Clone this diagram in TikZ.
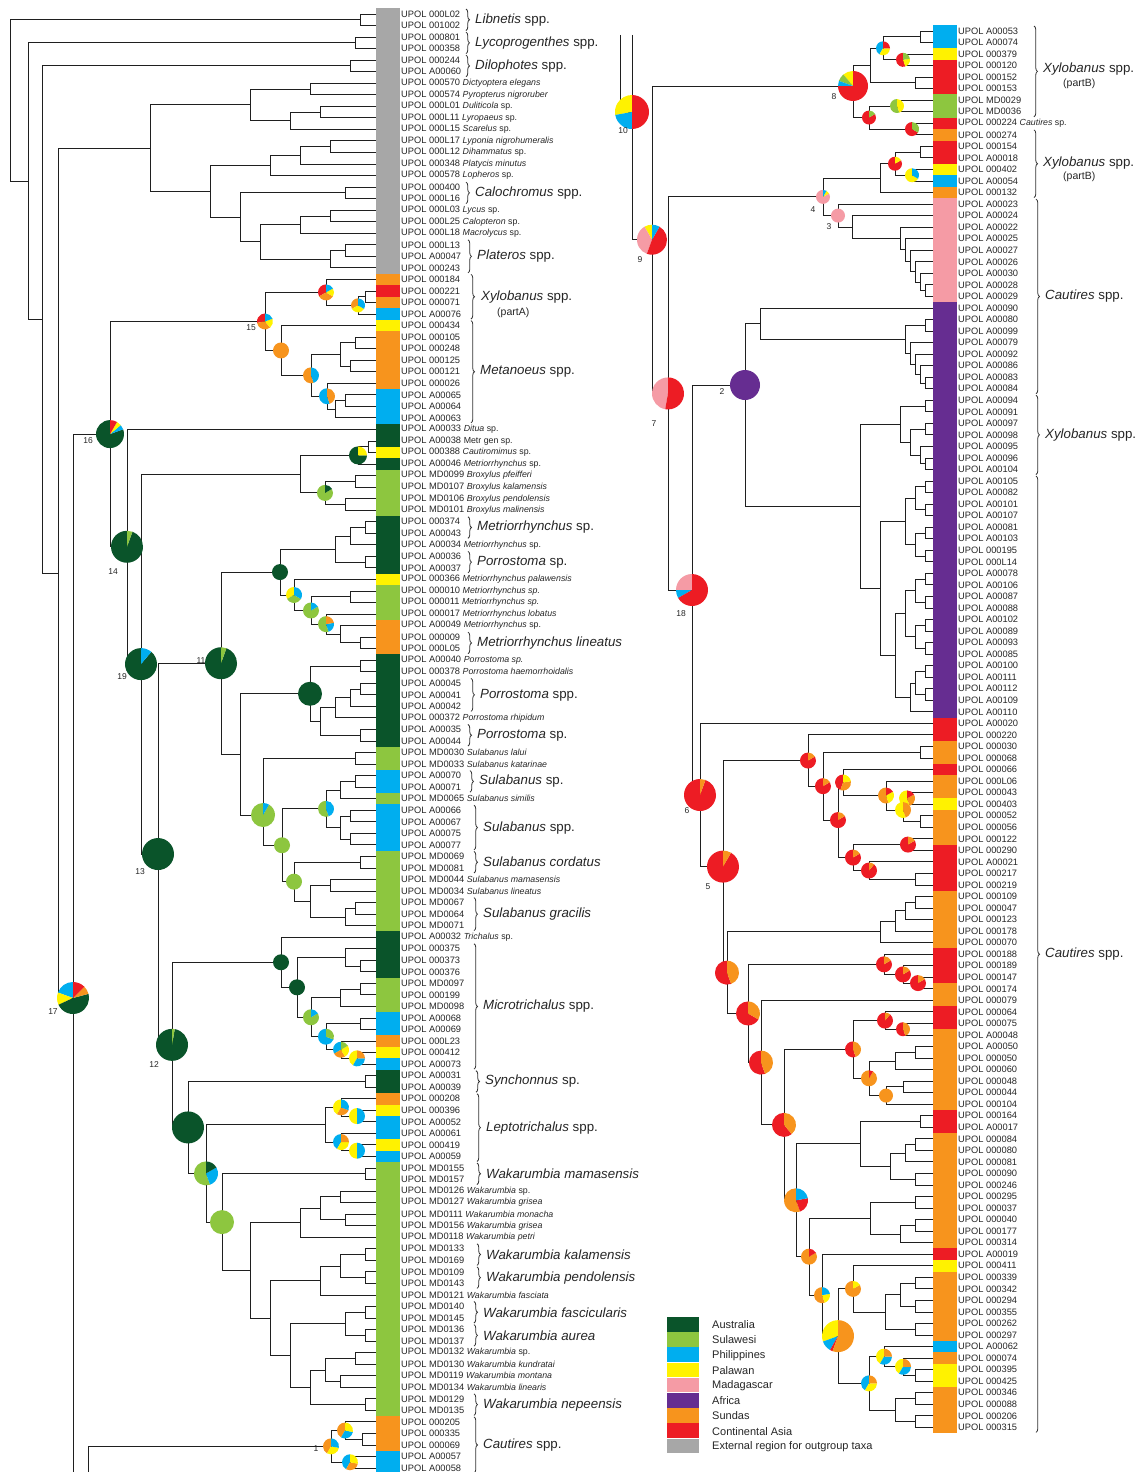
\documentclass[tikz,border=0pt]{standalone}
\usepackage{fontspec}
\setmainfont{Liberation Sans}
\usetikzlibrary{calc,decorations.pathreplacing}
\definecolor{cAus}{RGB}{10,84,42}
\definecolor{cSul}{RGB}{141,198,63}
\definecolor{cPhi}{RGB}{0,174,239}
\definecolor{cPal}{RGB}{255,242,0}
\definecolor{cMad}{RGB}{245,155,165}
\definecolor{cAfr}{RGB}{102,45,145}
\definecolor{cSun}{RGB}{247,148,29}
\definecolor{cAsi}{RGB}{237,28,36}
\definecolor{cExt}{RGB}{167,167,167}
\newcommand\sn[2]{{\fontsize{8.8}{9}\selectfont\textit{#1}#2}}
\newcommand\LT[2]{\node[lab] (lt#1) at (401,{14+(#1-1)*11.54}) {#2};}
\newcommand\LB[3]{\fill[#3] (376,{14+(#1-1)*11.54-5.77}) rectangle (400,{14+(#2-1)*11.54+5.77});}
\newcommand\RB[3]{\fill[#3] (933,{31+(#1-1)*11.54-5.77}) rectangle (957,{31+(#2-1)*11.54+5.77});}
\newcommand\GL[5]{\draw[brc] (#1,{14+(#2-1)*11.54-5}) -- (#1,{14+(#3-1)*11.54+5});
  \node[grp] (#5) at ({#1+9},{14+((#2+#3)/2-1)*11.54}) {#4};}
\newcommand\GR[5]{\draw[brc] (#1,{31+(#2-1)*11.54-5}) -- (#1,{31+(#3-1)*11.54+5});
  \node[grp] (#5) at ({#1+9},{31+((#2+#3)/2-1)*11.54}) {#4};}
% tree join at mid height: name, x, childA, childB
\newcommand\J[4]{\path let \p1=(#3), \p2=(#4) in ({#2pt},{0.5*\y1+0.5*\y2}) coordinate (#1);
  \draw[br] (#3) -- (#3 -| #1) -- (#4 -| #1) -- (#4);}
% tree join at given height: name, x, y, childA, childB
\newcommand\JJ[5]{\coordinate (#1) at (#2,#3);
  \draw[br] (#4) -- (#4 -| #1) -- (#5 -| #1) -- (#5);}
\newcommand\pie[3]{\gdef\pa{90}%
  \foreach \c/\d in {#3}{%
    \fill[\c] (#1) -- ++(\pa:#2pt) arc[start angle=\pa, delta angle=\d, radius=#2pt] -- cycle;
    \pgfmathsetmacro\pb{\pa+\d}\xdef\pa{\pb}}}
\begin{document}
\begin{tikzpicture}[x=1pt,y=-1pt,
  br/.style={line width=0.9pt, black!88},
  lab/.style={anchor=west, inner sep=0pt, font=\fontsize{9.3}{10}\selectfont, text=black!85},
  grp/.style={anchor=west, inner sep=0pt, font=\fontsize{13.3}{14}\selectfont, text=black!85},
  sub/.style={anchor=west, inner sep=0pt, font=\fontsize{10.5}{11}\selectfont, text=black!85},
  brc/.style={decorate, decoration={brace, amplitude=3.5pt}, line width=0.8pt, black!80},
  num/.style={font=\fontsize{8.5}{9}\selectfont, inner sep=0pt, text=black!85},
  leg/.style={anchor=west, inner sep=0pt, font=\fontsize{11}{12}\selectfont, text=black!85}]
\fill[white, use as bounding box] (0,0) rectangle (1139,1472);
% ---------- leaves
\foreach \i in {1,...,127} {\coordinate (L\i) at (376,{14+(\i-1)*11.54});}
\foreach \i in {1,...,122} {\coordinate (R\i) at (933,{31+(\i-1)*11.54});}
% ---------- colour bars left
\LB{1}{23}{cExt}\LB{24}{24}{cSun}\LB{25}{25}{cAsi}\LB{26}{26}{cSun}\LB{27}{27}{cPhi}
\LB{28}{28}{cPal}\LB{29}{33}{cSun}\LB{34}{36}{cPhi}\LB{37}{38}{cAus}\LB{39}{39}{cPal}
\LB{40}{40}{cAus}\LB{41}{44}{cSul}\LB{45}{49}{cAus}\LB{50}{50}{cPal}\LB{51}{53}{cSul}
\LB{54}{56}{cSun}\LB{57}{64}{cAus}\LB{65}{66}{cSul}\LB{67}{68}{cPhi}\LB{69}{69}{cSul}
\LB{70}{73}{cPhi}\LB{74}{80}{cSul}\LB{81}{84}{cAus}\LB{85}{87}{cSul}\LB{88}{89}{cPhi}
\LB{90}{90}{cSun}\LB{91}{91}{cPal}\LB{92}{92}{cPhi}\LB{93}{94}{cAus}\LB{95}{95}{cSun}
\LB{96}{96}{cPal}\LB{97}{98}{cPhi}\LB{99}{99}{cPal}\LB{100}{100}{cPhi}\LB{101}{122}{cSul}
\LB{123}{125}{cSun}\LB{126}{128}{cPhi}
% ---------- colour bars right
\RB{1}{2}{cPhi}\RB{3}{3}{cPal}\RB{4}{6}{cAsi}\RB{7}{8}{cSul}\RB{9}{9}{cAsi}\RB{10}{10}{cSun}
\RB{11}{12}{cAsi}\RB{13}{13}{cPal}\RB{14}{14}{cPhi}\RB{15}{15}{cSun}\RB{16}{24}{cMad}
\RB{25}{60}{cAfr}\RB{61}{62}{cAsi}\RB{63}{64}{cSun}\RB{65}{65}{cAsi}\RB{66}{67}{cSun}
\RB{68}{68}{cPal}\RB{69}{71}{cSun}\RB{72}{75}{cAsi}\RB{76}{80}{cSun}\RB{81}{83}{cAsi}
\RB{84}{85}{cSun}\RB{86}{87}{cAsi}\RB{88}{94}{cSun}\RB{95}{96}{cAsi}\RB{97}{106}{cSun}
\RB{107}{107}{cAsi}\RB{108}{108}{cPal}\RB{109}{114}{cSun}\RB{115}{115}{cPhi}\RB{116}{116}{cSun}
\RB{117}{118}{cPal}\RB{119}{122}{cSun}
% ---------- left labels
\LT{1}{UPOL 000L02}\LT{2}{UPOL 001002}\LT{3}{UPOL 000801}\LT{4}{UPOL 000358}
\LT{5}{UPOL 000244}\LT{6}{UPOL A00060}
\LT{7}{UPOL 000570 \sn{Dictyoptera elegans}{}}
\LT{8}{UPOL 000574 \sn{Pyropterus nigroruber}{}}
\LT{9}{UPOL 000L01 \sn{Duliticola}{ sp.}}
\LT{10}{UPOL 000L11 \sn{Lyropaeus}{ sp.}}
\LT{11}{UPOL 000L15 \sn{Scarelus}{ sp.}}
\LT{12}{UPOL 000L17 \sn{Lyponia nigrohumeralis}{}}
\LT{13}{UPOL 000L12 \sn{Dihammatus}{ sp.}}
\LT{14}{UPOL 000348 \sn{Platycis minutus}{}}
\LT{15}{UPOL 000578 \sn{Lopheros}{ sp.}}
\LT{16}{UPOL 000400}\LT{17}{UPOL 000L16}
\LT{18}{UPOL 000L03 \sn{Lycus}{ sp.}}
\LT{19}{UPOL 000L25 \sn{Calopteron}{ sp.}}
\LT{20}{UPOL 000L18 \sn{Macrolycus}{ sp.}}
\LT{21}{UPOL 000L13}\LT{22}{UPOL A00047}\LT{23}{UPOL 000243}
\LT{24}{UPOL 000184}\LT{25}{UPOL 000221}\LT{26}{UPOL 000071}\LT{27}{UPOL A00076}
\LT{28}{UPOL 000434}\LT{29}{UPOL 000105}\LT{30}{UPOL 000248}\LT{31}{UPOL 000125}
\LT{32}{UPOL 000121}\LT{33}{UPOL 000026}\LT{34}{UPOL A00065}\LT{35}{UPOL A00064}
\LT{36}{UPOL A00063}
\LT{37}{UPOL A00033 \sn{Ditua}{ sp.}}
\LT{38}{UPOL A00038 {\fontsize{8.8}{9}\selectfont Metr gen sp.}}
\LT{39}{UPOL 000388 \sn{Cautiromimus}{ sp.}}
\LT{40}{UPOL A00046 \sn{Metriorrhynchus}{ sp.}}
\LT{41}{UPOL MD0099 \sn{Broxylus pfeifferi}{}}
\LT{42}{UPOL MD0107 \sn{Broxylus kalamensis}{}}
\LT{43}{UPOL MD0106 \sn{Broxylus pendolensis}{}}
\LT{44}{UPOL MD0101 \sn{Broxylus malinensis}{}}
\LT{45}{UPOL 000374}\LT{46}{UPOL A00043}
\LT{47}{UPOL A00034 \sn{Metriorrhynchus}{ sp.}}
\LT{48}{UPOL A00036}\LT{49}{UPOL A00037}
\LT{50}{UPOL 000366 \sn{Metriorrhynchus palawensis}{}}
\LT{51}{UPOL 000010 \sn{Metriorrhynchus sp.}{}}
\LT{52}{UPOL 000011 \sn{Metriorrhynchus sp.}{}}
\LT{53}{UPOL 000017 \sn{Metriorrhynchus lobatus}{}}
\LT{54}{UPOL A00049 \sn{Metriorrhynchus}{ sp.}}
\LT{55}{UPOL 000009}\LT{56}{UPOL 000L05}
\LT{57}{UPOL A00040 \sn{Porrostoma sp.}{}}
\LT{58}{UPOL 000378 \sn{Porrostoma haemorrhoidalis}{}}
\LT{59}{UPOL A00045}\LT{60}{UPOL A00041}\LT{61}{UPOL A00042}
\LT{62}{UPOL 000372 \sn{Porrostoma rhipidum}{}}
\LT{63}{UPOL A00035}\LT{64}{UPOL A00044}
\LT{65}{UPOL MD0030 \sn{Sulabanus lalui}{}}
\LT{66}{UPOL MD0033 \sn{Sulabanus katarinae}{}}
\LT{67}{UPOL A00070}\LT{68}{UPOL A00071}
\LT{69}{UPOL MD0065 \sn{Sulabanus similis}{}}
\LT{70}{UPOL A00066}\LT{71}{UPOL A00067}\LT{72}{UPOL A00075}\LT{73}{UPOL A00077}
\LT{74}{UPOL MD0069}\LT{75}{UPOL MD0081}
\LT{76}{UPOL MD0044 \sn{Sulabanus mamasensis}{}}
\LT{77}{UPOL MD0034 \sn{Sulabanus lineatus}{}}
\LT{78}{UPOL MD0067}\LT{79}{UPOL MD0064}\LT{80}{UPOL MD0071}
\LT{81}{UPOL A00032 \sn{Trichalus}{ sp.}}
\LT{82}{UPOL 000375}\LT{83}{UPOL 000373}\LT{84}{UPOL 000376}\LT{85}{UPOL MD0097}
\LT{86}{UPOL 000199}\LT{87}{UPOL MD0098}\LT{88}{UPOL A00068}\LT{89}{UPOL A00069}
\LT{90}{UPOL 000L23}\LT{91}{UPOL 000412}\LT{92}{UPOL A00073}\LT{93}{UPOL A00031}
\LT{94}{UPOL A00039}\LT{95}{UPOL 000208}\LT{96}{UPOL 000396}\LT{97}{UPOL A00052}
\LT{98}{UPOL A00061}\LT{99}{UPOL 000419}\LT{100}{UPOL A00059}\LT{101}{UPOL MD0155}
\LT{102}{UPOL MD0157}
\LT{103}{UPOL MD0126 \sn{Wakarumbia}{ sp.}}
\LT{104}{UPOL MD0127 \sn{Wakarumbia grisea}{}}
\LT{105}{UPOL MD0111 \sn{Wakarumbia monacha}{}}
\LT{106}{UPOL MD0156 \sn{Wakarumbia grisea}{}}
\LT{107}{UPOL MD0118 \sn{Wakarumbia petri}{}}
\LT{108}{UPOL MD0133}\LT{109}{UPOL MD0169}\LT{110}{UPOL MD0109}\LT{111}{UPOL MD0143}
\LT{112}{UPOL MD0121 \sn{Wakarumbia fasciata}{}}
\LT{113}{UPOL MD0140}\LT{114}{UPOL MD0145}\LT{115}{UPOL MD0136}\LT{116}{UPOL MD0137}
\LT{117}{UPOL MD0132 \sn{Wakarumbia}{ sp.}}
\LT{118}{UPOL MD0130 \sn{Wakarumbia kundratai}{}}
\LT{119}{UPOL MD0119 \sn{Wakarumbia montana}{}}
\LT{120}{UPOL MD0134 \sn{Wakarumbia linearis}{}}
\LT{121}{UPOL MD0129}\LT{122}{UPOL MD0135}\LT{123}{UPOL 000205}\LT{124}{UPOL 000335}
\LT{125}{UPOL 000069}\LT{126}{UPOL A00057}\LT{127}{UPOL A00058}
% ---------- right labels
\foreach \c [count=\j] in {A00053,A00074,000379,000120,000152,000153,MD0029,MD0036,
 {000224 \sn{Cautires}{ sp.}},000274,000154,A00018,000402,A00054,000132,A00023,A00024,A00022,
 A00025,A00027,A00026,A00030,A00028,A00029,A00090,A00080,A00099,A00079,A00092,A00086,
 A00083,A00084,A00094,A00091,A00097,A00098,A00095,A00096,A00104,A00105,A00082,A00101,
 A00107,A00081,A00103,000195,000L14,A00078,A00106,A00087,A00088,A00102,A00089,A00093,
 A00085,A00100,A00111,A00112,A00109,A00110,A00020,000220,000030,000068,000066,000L06,
 000043,000403,000052,000056,000122,000290,A00021,000217,000219,000109,000047,000123,
 000178,000070,000188,000189,000147,000174,000079,000064,000075,A00048,A00050,000050,
 000060,000048,000044,000104,000164,A00017,000084,000080,000081,000090,000246,000295,
 000037,000040,000177,000314,A00019,000411,000339,000342,000294,000355,000262,000297,
 A00062,000074,000395,000425,000346,000088,000206,000315}
 {\node[lab] (rt\j) at (958,{31+(\j-1)*11.54}) {UPOL \c};}
% ---------- group labels left
\GL{466}{1}{2}{\textit{Libnetis} spp.}{g1}
\GL{466}{3}{4}{\textit{Lycoprogenthes} spp.}{g2}
\GL{466}{5}{6}{\textit{Dilophotes} spp.}{g3}
\GL{466}{16}{17}{\textit{Calochromus} spp.}{g4}
\GL{468}{21}{23}{\textit{Plateros} spp.}{g5}
\draw[brc] (471,{14+23*11.54-5}) -- (471,{14+26*11.54+5});
\node[grp] (g6) at (481,297) {\textit{Xylobanus} spp.};
\node[sub] (g6b) at (497,313) {(partA)};
\GL{471}{28}{36}{\textit{Metanoeus} spp.}{g7}
\GL{468}{45}{46}{\textit{Metriorrhynchus} sp.}{g8}
\GL{468}{48}{49}{\textit{Porrostoma} sp.}{g9}
\GL{468}{55}{56}{\textit{Metriorrhynchus lineatus}}{g10}
\GL{471}{59}{61}{\textit{Porrostoma} spp.}{g11}
\GL{468}{63}{64}{\textit{Porrostoma} sp.}{g12}
\GL{470}{67}{68}{\textit{Sulabanus} sp.}{g13}
\GL{474}{70}{73}{\textit{Sulabanus} spp.}{g14}
\GL{474}{74}{75}{\textit{Sulabanus cordatus}}{g15}
\GL{474}{78}{80}{\textit{Sulabanus gracilis}}{g16}
\GL{474}{82}{92}{\textit{Microtrichalus} spp.}{g17}
\GL{476}{93}{94}{\textit{Synchonnus} sp.}{g18}
\GL{477}{95}{100}{\textit{Leptotrichalus} spp.}{g19}
\GL{477}{101}{102}{\textit{Wakarumbia mamasensis}}{g20}
\GL{477}{108}{109}{\textit{Wakarumbia kalamensis}}{g21}
\GL{477}{110}{111}{\textit{Wakarumbia pendolensis}}{g22}
\GL{474}{113}{114}{\textit{Wakarumbia fascicularis}}{g23}
\GL{474}{115}{116}{\textit{Wakarumbia aurea}}{g24}
\GL{474}{121}{122}{\textit{Wakarumbia nepeensis}}{g25}
\GL{474}{123}{127}{\textit{Cautires} spp.}{g26}
% ---------- group labels right
\draw[brc] (1034,{31-5}) -- (1034,{31+7*11.54+5});
\node[grp] (h1) at (1043,69) {\textit{Xylobanus} spp.};
\node[sub] (h1b) at (1063,84) {(partB)};
\draw[brc] (1034,{31+9*11.54-5}) -- (1034,{31+14*11.54+5});
\node[grp] (h2) at (1043,163) {\textit{Xylobanus} spp.};
\node[sub] (h2b) at (1063,177) {(partB)};
\GR{1036}{16}{32}{\textit{Cautires} spp.}{h3}
\GR{1036}{33}{39}{\textit{Xylobanus} spp.}{h4}
\GR{1036}{40}{122}{\textit{Cautires} spp.}{h5}
% ---------- legend
\foreach \c/\t [count=\i from 0] in {cAus/Australia,cSul/Sulawesi,cPhi/Philippines,
  cPal/Palawan,cMad/Madagascar,cAfr/Africa,cSun/Sundas,cAsi/Continental Asia,
  cExt/External region for outgroup taxa}
  {\fill[\c] (667,{1317+\i*15.2}) rectangle (699,{1317+(\i+1)*15.2-0.6});
   \node[leg] (leg\i) at (712,{1324.8+\i*15.2}) {\t};}
% =================== LEFT TREE
\J{o12}{360}{L1}{L2}
\J{o34}{355}{L3}{L4}
\J{o56}{350}{L5}{L6}
\J{a1}{310}{L7}{L8}
\J{a2}{320}{L9}{L10}
\J{a3}{290}{a2}{L11}
\J{a4}{250}{a1}{a3}
\J{a5}{330}{L12}{L13}
\J{a6}{300}{a5}{L14}
\J{a7}{270}{a6}{L15}
\J{a8}{345}{L16}{L17}
\J{a9}{330}{L18}{L19}
\J{a10}{300}{a9}{L20}
\J{a11}{345}{L21}{L22}
\J{a12}{330}{a11}{L23}
\J{a13}{260}{a10}{a12}
\J{a14}{240}{a8}{a13}
\J{a15}{210}{a7}{a14}
\J{a16}{150}{a4}{a15}
\J{x1}{365}{L25}{L26}
\J{x2}{358}{x1}{L27}
\J{x3}{326}{L24}{x2}
\J{m1}{355}{L29}{L30}
\J{m2}{350}{L31}{L32}
\J{m3}{340}{m1}{m2}
\J{m4}{345}{L34}{L35}
\J{m5}{335}{m4}{L36}
\J{m6}{327}{L33}{m5}
\J{m7}{311}{m3}{m6}
\J{m8}{281}{L28}{m7}
\J{n15}{265}{x3}{m8}
\J{c1}{368}{L38}{L39}
\J{c2}{358}{c1}{L40}
\J{c3}{355}{L41}{L42}
\J{c4}{345}{L43}{L44}
\J{c5}{325}{c3}{c4}
\J{c6}{300}{c2}{c5}
\J{d1}{365}{L45}{L46}
\J{d2}{350}{d1}{L47}
\J{d3}{365}{L48}{L49}
\J{d4}{335}{d2}{d3}
\J{d5}{350}{L51}{L52}
\J{d7}{360}{L55}{L56}
\J{d8}{340}{L54}{d7}
\J{d9}{326}{L53}{d8}
\J{d10}{311}{d5}{d9}
\J{d11}{294}{L50}{d10}
\J{d12}{280}{d4}{d11}
\J{e1}{360}{L57}{L58}
\J{e2}{360}{L59}{L60}
\J{e3}{350}{e2}{L61}
\J{e4}{335}{e3}{L62}
\J{e5}{360}{L63}{L64}
\J{e6}{320}{e4}{e5}
\J{e7}{310}{e1}{e6}
\J{s1}{355}{L65}{L66}
\J{s2}{355}{L67}{L68}
\J{s3}{340}{s2}{L69}
\J{s4}{350}{L70}{L71}
\J{s5}{350}{L72}{L73}
\J{s6}{340}{s4}{s5}
\J{s7}{326}{s3}{s6}
\J{s9}{360}{L74}{L75}
\J{s10}{330}{L76}{L77}
\J{s11}{355}{L78}{L79}
\J{s12}{345}{s11}{L80}
\J{s13}{310}{s10}{s12}
\J{s14}{294}{s9}{s13}
\J{s15}{282}{s7}{s14}
\JJ{s16}{263}{815}{s1}{s15}
\J{e8}{240}{e7}{s16}
\J{n11}{221}{d12}{e8}
\J{t1}{360}{L83}{L84}
\J{t2}{345}{L82}{t1}
\J{t3}{360}{L85}{L86}
\J{t4}{340}{t3}{L87}
\J{t5}{360}{L88}{L89}
\J{t6}{357}{L91}{L92}
\J{t7}{341}{L90}{t6}
\J{t8}{326}{t5}{t7}
\J{t9}{311}{t4}{t8}
\J{t10}{297}{t2}{t9}
\J{t11}{281}{L81}{t10}
\J{y1}{365}{L93}{L94}
\J{p1}{357}{L96}{L97}
\J{p2}{341}{L95}{p1}
\J{p3}{357}{L99}{L100}
\J{p4}{341}{L98}{p3}
\J{p5}{325}{p2}{p4}
\J{w1}{365}{L101}{L102}
\J{w2}{340}{L103}{L104}
\J{w3}{345}{L105}{L106}
\J{w4}{320}{w2}{w3}
\J{w5}{300}{w4}{L107}
\J{w6}{365}{L108}{L109}
\J{w7}{365}{L110}{L111}
\J{w8}{340}{w6}{w7}
\J{w9}{320}{w8}{L112}
\J{w10}{365}{L113}{L114}
\J{w11}{365}{L115}{L116}
\J{w12}{345}{w10}{w11}
\J{w13}{355}{L117}{L118}
\J{w14}{340}{L119}{L120}
\J{w15}{325}{w13}{w14}
\J{w16}{365}{L121}{L122}
\J{w17}{310}{w15}{w16}
\J{w18}{290}{w12}{w17}
\J{w19}{270}{w9}{w18}
\J{w20}{250}{w5}{w19}
\J{w21}{222}{w1}{w20}
\J{g2}{206}{p5}{w21}
\J{g1}{188}{y1}{g2}
\J{n12}{172}{t11}{g1}
\J{n13}{158}{n11}{n12}
\J{n19}{141}{c6}{n13}
\J{n14}{127}{L37}{n19}
\J{n16}{110}{n15}{n14}
\coordinate (n17) at (73,998);
\draw[br] (n16) -| (73,1472);
\J{b4}{58}{a16}{n17}
\J{b3}{42}{o56}{b4}
\J{b2}{28}{o34}{b3}
\J{b1}{10}{o12}{b2}
\J{k1}{362}{L124}{L125}
\J{k2}{345}{L123}{k1}
\J{k3}{350}{L126}{L127}
\J{k4}{331}{k2}{k3}
\draw[br] (k4) -| (88,1472);
% =================== RIGHT TREE
% rows 1-10
\J{u1}{920}{R1}{R2}
\J{u3}{903}{R3}{R4}
\J{u2}{883}{u1}{u3}
\J{u4}{915}{R5}{R6}
\J{u5}{870}{u2}{u4}
\J{u6}{897}{R7}{R8}
\J{u7}{912}{R9}{R10}
\J{u13}{869}{u6}{u7}
\JJ{n8}{853}{86}{u5}{u13}
% rows 11-15
\J{u8}{920}{R11}{R12}
\J{u9}{912}{R13}{R14}
\J{u11}{895}{u8}{u9}
\J{u10}{880}{u11}{R15}
% pink
\J{q1}{925}{R23}{R24}
\J{q2}{920}{R22}{q1}
\J{q3a}{915}{R21}{q2}
\J{q4}{910}{R20}{q3a}
\J{q5}{905}{R19}{q4}
\J{q6}{900}{R18}{q5}
\J{q7}{852}{R17}{q6}
\J{n3}{838}{R16}{q7}
\J{n4}{823}{u10}{n3}
% purple
\J{pa1}{925}{R31}{R32}
\J{pa2}{920}{R30}{pa1}
\J{pa3}{915}{R29}{pa2}
\J{pa4}{910}{R28}{pa3}
\J{pa5}{925}{R26}{R27}
\J{pa6}{905}{pa5}{pa4}
\J{pa}{760}{R25}{pa6}
\J{pb1}{925}{R38}{R39}
\J{pb2}{920}{R37}{pb1}
\J{pb3}{925}{R35}{R36}
\J{pb4}{910}{pb3}{pb2}
\J{pb5}{925}{R33}{R34}
\J{pb}{900}{pb5}{pb4}
\J{pcA}{925}{R40}{R41}
\J{pcB}{925}{R42}{R43}
\J{pcC}{915}{pcA}{pcB}
\J{pcD}{925}{R44}{R45}
\J{pcE}{925}{R46}{R47}
\J{pcF}{915}{pcD}{pcE}
\J{pcG}{905}{pcC}{pcF}
\J{pcH}{925}{R48}{R49}
\J{pcI}{925}{R50}{R51}
\J{pcJ}{915}{pcH}{pcI}
\J{pcK}{925}{R52}{R53}
\J{pcL}{925}{R54}{R55}
\J{pcM}{915}{pcK}{pcL}
\J{pcN}{905}{pcJ}{pcM}
\J{pcO}{925}{R56}{R57}
\J{pcP}{925}{R58}{R59}
\J{pcQ}{915}{pcO}{pcP}
\J{pcR}{910}{pcQ}{R60}
\J{pcS}{895}{pcN}{pcR}
\J{pc}{880}{pcG}{pcS}
\J{pd}{860}{pb}{pc}
\JJ{n2}{745}{385}{pa}{pd}
% Cautires rows 61-75
\J{hh1}{920}{R63}{R64}
\J{hh2}{907}{R67}{R68}
\J{hh3}{920}{R69}{R70}
\J{hh4}{903}{hh2}{hh3}
\J{hh5}{886}{R66}{hh4}
\J{hh6}{843}{R65}{hh5}
\J{hh7}{908}{R71}{R72}
\J{hh8}{915}{R74}{R75}
\J{hh9}{869}{R73}{hh8}
\J{hh10}{853}{hh7}{hh9}
\J{hh11}{838}{hh6}{hh10}
\J{hh12}{823}{hh1}{hh11}
\J{h62}{808}{R62}{hh12}
% rows 76-122
\J{zz1}{915}{R76}{R77}
\J{zz2}{905}{zz1}{R78}
\J{zz3}{895}{zz2}{R79}
\J{zz4}{880}{zz3}{R80}
\J{zr1}{918}{R83}{R84}
\J{zr2}{903}{R82}{zr1}
\J{zr3}{884}{R81}{zr2}
\J{zs1}{903}{R87}{R88}
\J{zs2}{885}{R86}{zs1}
\J{zs3}{915}{R89}{R90}
\J{zs4}{895}{zs3}{R91}
\J{zs5}{903}{R92}{R93}
\J{zs6}{886}{zs5}{R94}
\J{zs7}{869}{zs4}{zs6}
\J{zs8}{853}{zs2}{zs7}
\J{zt1}{920}{R95}{R96}
\J{zt2}{915}{R97}{R98}
\J{zt3}{905}{zt2}{R99}
\J{zt4}{915}{R100}{R101}
\J{zt5}{890}{zt3}{zt4}
\J{zt6}{860}{zt1}{zt5}
\J{zu1}{915}{R102}{R103}
\J{zu2}{915}{R104}{R105}
\J{zu3}{900}{zu2}{R106}
\J{zu4}{870}{zu1}{zu3}
\J{zv1}{915}{R109}{R110}
\J{zv2}{915}{R111}{R112}
\J{zv3}{900}{zv1}{zv2}
\J{zv4}{915}{R113}{R114}
\J{zv5}{885}{zv3}{zv4}
\J{zv6}{853}{R108}{zv5}
\J{zw1}{915}{R117}{R118}
\J{zw2}{903}{R116}{zw1}
\J{zw3}{884}{R115}{zw2}
\J{zw4}{915}{R119}{R120}
\J{zw5}{915}{R121}{R122}
\J{zw6}{895}{zw4}{zw5}
\J{zw7}{869}{zw3}{zw6}
\J{K8}{838}{zv6}{zw7}
\J{K7}{822}{R107}{K8}
\J{K6}{809}{zu4}{K7}
\J{K5}{796}{zt6}{K6}
\J{K4}{784}{zs8}{K5}
\J{K3}{761}{R85}{K4}
\J{K2}{748}{zr3}{K3}
\J{K1}{727}{zz4}{K2}
\J{n5}{723}{h62}{K1}
\J{n6}{700}{R61}{n5}
\J{n18}{692}{n2}{n6}
\J{n7}{668}{n4}{n18}
\J{n9}{652}{n8}{n7}
\draw[br] (620,35) |- (632,112);
\draw[br] (632,35) |- (n9);
\coordinate (n10) at (632,112);
% =================== PIES
\pie{n17}{16}{cPhi/70,cPal/45,cAus/170,cSun/30,cAsi/45}
\pie{n16}{14}{cAus/290,cPhi/20,cPal/20,cAsi/30}
\pie{n14}{16}{cAus/340,cSul/20}
\pie{n19}{16}{cAus/320,cPhi/40}
\pie{n13}{16}{cAus/360}
\pie{n12}{16}{cAus/350,cSul/10}
\pie{n11}{16}{cAus/340,cSul/20}
\pie{n15}{8}{cAsi/100,cSun/120,cPal/70,cPhi/70}
\pie{x3}{8}{cAsi/120,cSun/120,cPal/60,cPhi/60}
\pie{x2}{7}{cSun/120,cPal/120,cPhi/120}
\pie{m8}{8}{cSun/360}
\pie{m7}{8}{cSun/200,cPhi/160}
\pie{m6}{8}{cPhi/200,cSun/160}
\pie{c2}{9}{cAus/270,cPal/90}
\pie{c5}{8}{cSul/300,cAus/60}
\pie{d12}{8}{cAus/360}
\pie{d11}{8}{cPal/120,cSul/120,cPhi/120}
\pie{d10}{8}{cSul/300,cPhi/60}
\pie{d9}{8}{cSul/200,cPhi/80,cSun/80}
\pie{e7}{12}{cAus/360}
\pie{s16}{12}{cSul/330,cPhi/30}
\pie{s7}{8}{cSul/200,cPhi/160}
\pie{s15}{8}{cSul/360}
\pie{s14}{8}{cSul/360}
\pie{t11}{8}{cAus/360}
\pie{t10}{8}{cAus/360}
\pie{t9}{8}{cSul/300,cPhi/60}
\pie{t8}{8}{cPhi/250,cSul/110}
\pie{t7}{8}{cPhi/120,cSun/90,cPal/90,cSul/60}
\pie{t6}{8}{cPal/150,cPhi/120,cSun/90}
\pie{g1}{16}{cAus/360}
\pie{g2}{12}{cSul/200,cPhi/100,cAus/60}
\pie{w21}{12}{cSul/360}
\pie{p2}{8}{cPal/150,cSun/100,cPhi/110}
\pie{p1}{8}{cPal/180,cPhi/180}
\pie{p4}{8}{cPhi/150,cPal/120,cSun/90}
\pie{p3}{8}{cPal/180,cPhi/180}
\pie{k2}{8}{cSun/150,cPhi/110,cPal/100}
\pie{k4}{8}{cSun/150,cPal/110,cPhi/100}
\pie{k3}{8}{cPhi/150,cSun/110,cPal/100}
\pie{n10}{17}{cPal/100,cPhi/80,cAsi/180}
\pie{n9}{15}{cPal/30,cMad/130,cAsi/170,cPhi/30}
\pie{n8}{15}{cPal/40,cSul/30,cPhi/20,cAsi/270}
\pie{u2}{7}{cPhi/150,cPal/120,cAsi/90}
\pie{u3}{7}{cAsi/200,cPal/80,cSul/80}
\pie{u6}{7}{cSul/200,cPal/160}
\pie{u13}{7}{cAsi/300,cSul/60}
\pie{u7}{7}{cAsi/240,cSul/120}
\pie{u11}{7}{cAsi/300,cPal/60}
\pie{u9}{7}{cPal/240,cPhi/120}
\pie{n7}{16}{cMad/170,cAsi/190}
\pie{n4}{7}{cMad/300,cPal/30,cPhi/30}
\pie{n3}{7}{cMad/360}
\pie{n2}{15}{cAfr/360}
\pie{n18}{16}{cMad/90,cPhi/30,cAsi/240}
\pie{n6}{16}{cAsi/340,cSun/20}
\pie{n5}{16}{cAsi/330,cSun/30}
\pie{h62}{8}{cAsi/300,cSun/60}
\pie{hh12}{8}{cAsi/300,cSun/60}
\pie{hh6}{8}{cAsi/160,cSun/120,cPal/80}
\pie{hh5}{8}{cSun/200,cPal/100,cAsi/60}
\pie{hh2}{8}{cPal/200,cSun/100,cAsi/60}
\pie{hh4}{8}{cPal/200,cSun/160}
\pie{hh11}{8}{cAsi/300,cSun/60}
\pie{hh7}{8}{cAsi/300,cSun/60}
\pie{hh10}{8}{cAsi/300,cSun/60}
\pie{hh9}{8}{cAsi/320,cSun/40}
\pie{K1}{12}{cAsi/200,cSun/160}
\pie{K2}{12}{cAsi/240,cSun/120}
\pie{K3}{12}{cAsi/200,cSun/160}
\pie{K4}{12}{cAsi/220,cSun/140}
\pie{K5}{12}{cSun/200,cAsi/80,cPhi/80}
\pie{K6}{8}{cSun/300,cAsi/60}
\pie{K7}{8}{cSun/200,cPal/80,cPhi/80}
\pie{K8}{16}{cPal/110,cPhi/40,cAsi/10,cSun/200}
\pie{zv6}{8}{cSun/300,cPal/60}
\pie{zr3}{8}{cAsi/300,cSun/60}
\pie{zr2}{8}{cAsi/300,cSun/60}
\pie{zr1}{8}{cAsi/300,cSun/60}
\pie{zs2}{8}{cAsi/320,cSun/40}
\pie{zs1}{7}{cAsi/200,cSun/160}
\pie{zs8}{8}{cAsi/200,cSun/160}
\pie{zs7}{8}{cSun/330,cAsi/30}
\pie{zs6}{7}{cSun/360}
\pie{zw3}{8}{cPal/150,cPhi/120,cSun/90}
\pie{zw2}{8}{cPal/150,cPhi/120,cSun/90}
\pie{zw7}{8}{cPhi/150,cPal/120,cSun/90}
% =================== node numbers
\node[num] (nn16) at (88,441) {16};
\node[num] (nn14) at (113,572) {14};
\node[num] (nn19) at (122,677) {19};
\node[num] (nn13) at (140,872) {13};
\node[num] (nn12) at (154,1065) {12};
\node[num] (nn11) at (201,661) {11};
\node[num] (nn15) at (251,328) {15};
\node[num] (nn17) at (53,1012) {17};
\node[num] (nn1) at (316,1449) {1};
\node[num] (nn10) at (623,131) {10};
\node[num] (nn9) at (640,260) {9};
\node[num] (nn8) at (834,97) {8};
\node[num] (nn4) at (813,210) {4};
\node[num] (nn3) at (829,227) {3};
\node[num] (nn7) at (654,424) {7};
\node[num] (nn2) at (722,392) {2};
\node[num] (nn18) at (681,614) {18};
\node[num] (nn6) at (687,811) {6};
\node[num] (nn5) at (708,887) {5};
\end{tikzpicture}
\end{document}
